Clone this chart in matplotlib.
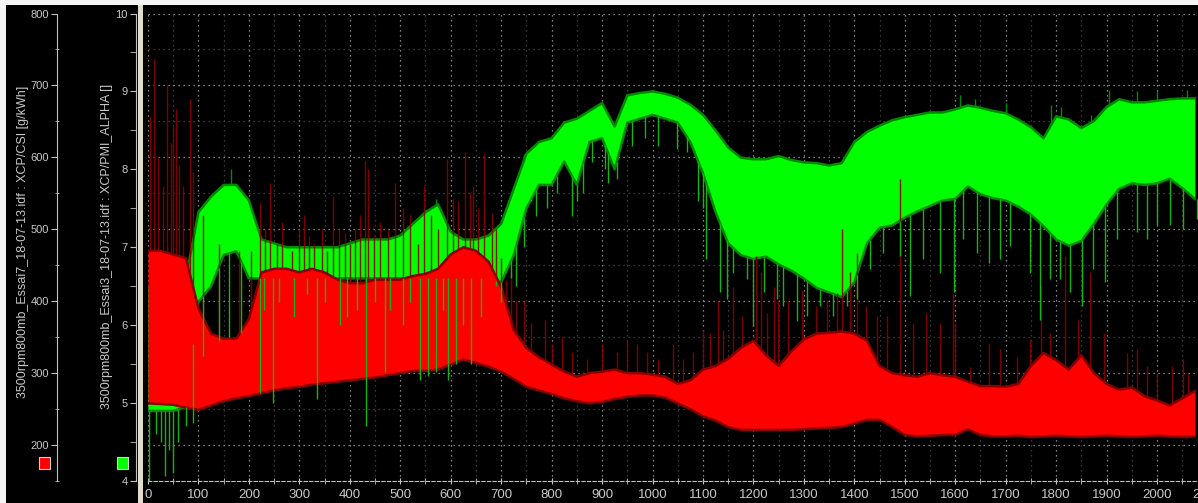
import numpy as np
import matplotlib
matplotlib.use("Agg")
import matplotlib.pyplot as plt
from matplotlib.patches import Rectangle
from matplotlib.ticker import MultipleLocator

# ---------------- data ----------------
time_s = np.arange(0, 2100, 25)  # sample base, 84 points

csi_low = [258, 257, 256, 252, 249, 255, 261, 265, 268, 272, 276, 279, 281, 284, 286, 288,
           290, 292, 294, 297, 300, 303, 303, 305, 312, 319, 314, 309, 302, 292, 281, 276,
           271, 265, 261, 258, 260, 264, 267, 269, 269, 266, 258, 250, 240, 234, 225, 221,
           221, 221, 221, 221, 222, 223, 224, 225, 230, 235, 235, 225, 214, 212, 213, 214,
           214, 222, 214, 212, 212, 213, 211, 212, 213, 212, 211, 212, 213, 212, 211, 212,
           213, 212, 211, 212]
csi_high = [470, 470, 465, 460, 390, 355, 348, 348, 375, 440, 445, 445, 440, 445, 440, 430,
            425, 425, 430, 430, 430, 435, 438, 445, 465, 475, 470, 455, 420, 360, 335, 322,
            312, 302, 295, 300, 302, 305, 300, 300, 298, 295, 285, 290, 305, 310, 320, 335,
            345, 325, 310, 330, 347, 355, 356, 358, 355, 345, 310, 300, 297, 295, 300, 297,
            295, 288, 282, 282, 281, 285, 310, 328, 318, 305, 325, 300, 285, 277, 280, 268,
            262, 255, 265, 275]

alpha_low = [4.90, 4.90, 4.90, 4.95, 6.30, 6.50, 6.90, 6.95, 6.60, 6.60, 6.60, 6.60, 6.60, 6.60,
             6.60, 6.60, 6.60, 6.60, 6.60, 6.60, 6.60, 6.60, 6.60, 6.60, 6.60, 6.60, 6.60, 6.60,
             6.55, 6.90, 7.50, 7.80, 7.80, 8.10, 7.80, 8.35, 8.40, 8.00, 8.60, 8.65, 8.70, 8.65,
             8.60, 8.35, 7.95, 7.45, 7.05, 6.90, 6.85, 6.88, 6.78, 6.70, 6.60, 6.48, 6.42, 6.36,
             6.55, 7.05, 7.25, 7.28, 7.38, 7.46, 7.53, 7.60, 7.62, 7.78, 7.68, 7.63, 7.60, 7.52,
             7.42, 7.27, 7.10, 7.02, 7.08, 7.30, 7.55, 7.75, 7.82, 7.80, 7.82, 7.88, 7.76, 7.62]
alpha_high = [6.50, 6.50, 6.50, 6.60, 7.45, 7.65, 7.80, 7.80, 7.60, 7.10, 7.05, 7.00, 7.00, 7.00,
              7.00, 7.00, 7.05, 7.10, 7.10, 7.10, 7.15, 7.30, 7.45, 7.55, 7.20, 7.10, 7.10, 7.15,
              7.30, 7.75, 8.20, 8.35, 8.40, 8.60, 8.65, 8.75, 8.85, 8.55, 8.95, 8.98, 9.00, 8.97,
              8.92, 8.83, 8.70, 8.50, 8.28, 8.15, 8.13, 8.13, 8.17, 8.12, 8.09, 8.08, 8.05, 8.08,
              8.35, 8.48, 8.56, 8.63, 8.67, 8.70, 8.73, 8.73, 8.77, 8.82, 8.79, 8.75, 8.72, 8.64,
              8.54, 8.40, 8.68, 8.64, 8.53, 8.62, 8.80, 8.90, 8.86, 8.86, 8.88, 8.90, 8.91, 8.91]

# upward CSI spikes (time, peak value)
csi_spike_t = [4, 12, 20, 30, 37, 45, 49, 55, 62, 70, 84, 90, 110, 140, 180, 205, 222, 232,
               242, 255, 265, 285, 300, 310, 320, 330, 345, 355, 367, 378, 390, 400, 410, 420,
               430, 437, 448, 460, 475, 490, 505, 520, 535, 548, 560, 575, 592, 605, 615, 628,
               638, 645, 655, 666, 681, 690, 700, 710, 720, 730, 745, 760, 787, 800, 820, 840,
               870, 900, 930, 950, 970, 990, 1010, 1040, 1060, 1080, 1100, 1114, 1130, 1140,
               1160, 1177, 1205, 1215, 1226, 1240, 1249, 1269, 1296, 1325, 1345, 1365, 1375,
               1391, 1405, 1424, 1444, 1464, 1490, 1517, 1543, 1570, 1596, 1600, 1629, 1666,
               1689, 1722, 1748, 1771, 1788, 1818, 1844, 1867, 1894, 1940, 1960, 1980, 2000,
               2030, 2052, 2062]
csi_spike_v = [656, 737, 600, 560, 700, 620, 644, 667, 590, 560, 681, 580, 520, 480, 470, 470,
               537, 500, 565, 480, 510, 470, 500, 520, 490, 480, 500, 470, 546, 500, 495, 480,
               500, 520, 595, 584, 490, 510, 500, 565, 530, 520, 480, 560, 520, 500, 598, 542,
               540, 607, 551, 560, 530, 605, 523, 500, 460, 430, 440, 400, 400, 370, 374, 340,
               350, 330, 320, 340, 330, 345, 340, 330, 320, 340, 320, 330, 360, 356, 400, 360,
               420, 379, 463, 440, 384, 420, 402, 402, 416, 393, 402, 412, 500, 440, 467, 393,
               379, 379, 570, 370, 384, 370, 412, 370, 309, 342, 333, 323, 347, 421, 356, 463,
               374, 440, 356, 328, 333, 310, 300, 310, 319, 300]

# downward PMI_ALPHA spikes (time, dip value)
alpha_dip_t = [2, 15, 25, 34, 42, 50, 60, 75, 90, 110, 140, 160, 185, 222, 230, 248, 260, 290,
               315, 334, 350, 380, 395, 415, 433, 450, 470, 480, 505, 520, 540, 555, 570, 585,
               595, 610, 625, 640, 660, 690, 700, 720, 730, 745, 760, 770, 790, 810, 840, 850,
               863, 880, 905, 912, 929, 960, 985, 1010, 1048, 1068, 1090, 1100, 1107, 1134,
               1147, 1160, 1187, 1200, 1220, 1246, 1259, 1286, 1306, 1332, 1358, 1385, 1405,
               1431, 1457, 1490, 1510, 1537, 1570, 1598, 1616, 1643, 1666, 1689, 1709, 1748,
               1768, 1788, 1808, 1828, 1851, 1874, 1897, 1920, 1960, 1980, 2000, 2026, 2052,
               2079]
alpha_dip_v = [4.00, 4.60, 4.50, 4.06, 4.40, 4.10, 4.50, 4.70, 4.75, 5.60, 5.80, 5.85, 5.90,
               5.13, 6.20, 5.00, 6.30, 6.10, 6.40, 5.05, 6.30, 6.00, 6.10, 6.20, 4.70, 6.30,
               5.40, 6.20, 6.00, 6.30, 5.30, 5.35, 5.40, 6.20, 5.30, 5.50, 6.00, 5.50, 6.10,
               6.50, 6.30, 6.60, 6.50, 7.00, 7.60, 7.40, 7.50, 7.70, 7.40, 7.60, 7.70, 8.10,
               8.00, 7.83, 7.88, 8.30, 8.40, 8.30, 8.26, 8.22, 7.60, 7.50, 6.85, 6.42, 6.33,
               6.67, 6.59, 5.99, 6.42, 6.33, 6.25, 6.05, 6.12, 6.25, 6.12, 6.25, 6.33, 6.72,
               6.93, 6.89, 6.38, 6.85, 6.67, 6.42, 7.10, 6.93, 6.80, 6.85, 7.02, 6.67, 6.07,
               6.59, 6.59, 6.42, 6.25, 6.72, 6.55, 7.10, 7.19, 7.10, 7.28, 7.28, 7.23, 7.36]

# upward PMI_ALPHA spikes (time, peak value)
alpha_peak_t = [165, 570, 745, 1610, 1640, 1700, 1790, 1810, 1870, 1905, 1960, 2000, 2060]
alpha_peak_v = [8.00, 7.62, 8.20, 8.95, 8.90, 8.85, 8.82, 8.80, 8.70, 9.02, 9.00, 9.00, 9.02]

csi_label = "3500rpm800mb_Essai7_18-07-13.idf : XCP/CSI [g/kWh]"
alpha_label = "3500rpm800mb_Essai3_18-07-13.idf : XCP/PMI_ALPHA []"

# ---------------- style ----------------
plt.rcParams['font.family'] = ['Liberation Sans Narrow', 'Liberation Sans', 'DejaVu Sans']
W, H = 1198, 503
fig = plt.figure(figsize=(W / 100, H / 100), dpi=100, facecolor='black')

txt = '#c8c8c8'
axc = '#c0c0c0'
RED, DRED = '#ff0000', '#8a0000'
GRN, DGRN, MGRN = '#00ff00', '#008a00', '#14b414'

left_px, right_px, top_px, bot_px = 148, 1210, 13.5, 481
rect = [left_px / W, (H - bot_px) / H, (right_px - left_px) / W, (bot_px - top_px) / H]
xmax = 2105

# background axes: grid only
ax_bg = fig.add_axes(rect, zorder=0)
ax_bg.set_facecolor('black')
ax_bg.set_xlim(0, xmax)
ax_bg.set_ylim(150, 800)
ax_bg.xaxis.set_major_locator(MultipleLocator(100))
ax_bg.xaxis.set_minor_locator(MultipleLocator(50))
ax_bg.yaxis.set_major_locator(MultipleLocator(100))
ax_bg.yaxis.set_minor_locator(MultipleLocator(50))
ax_bg.grid(which='major', color='#a8a8a8', linestyle=(0, (1, 3)), linewidth=0.9)
ax_bg.grid(which='minor', color='#4a4a4a', linestyle=(0, (1, 3)), linewidth=0.9)
ax_bg.tick_params(which='both', length=0, labelbottom=False, labelleft=False)
for s in ax_bg.spines.values():
    s.set_visible(False)

# green series axes (PMI_ALPHA)
ax_g = fig.add_axes(rect, zorder=1)
ax_g.patch.set_visible(False)
ax_g.set_xlim(0, xmax)
ax_g.set_ylim(4, 10)
ax_g.plot(time_s, alpha_high, color=DGRN, lw=1.8)
ax_g.plot(time_s, alpha_low, color=DGRN, lw=1.8)
ax_g.vlines(alpha_peak_t, np.interp(alpha_peak_t, time_s, alpha_high), alpha_peak_v,
            color=DGRN, lw=1.0)
ax_g.fill_between(time_s, alpha_low, alpha_high, color=GRN, lw=0)
for k in ['top', 'right', 'bottom']:
    ax_g.spines[k].set_visible(False)
ax_g.spines['left'].set_position(('axes', (136 - left_px) / (right_px - left_px)))
ax_g.spines['left'].set_color(axc)
ax_g.yaxis.set_major_locator(MultipleLocator(1))
ax_g.yaxis.set_minor_locator(MultipleLocator(0.5))
ax_g.tick_params(axis='y', which='major', colors=axc, labelcolor=txt, labelsize=8,
                 direction='out', length=4, pad=2)
ax_g.tick_params(axis='y', which='minor', colors=axc, direction='out', length=4)
ax_g.tick_params(axis='x', which='both', bottom=False, labelbottom=False)

# red series axes (CSI), owns x axis
ax_r = fig.add_axes(rect, zorder=2)
ax_r.patch.set_visible(False)
ax_r.set_xlim(0, xmax)
ax_r.set_ylim(150, 800)
ax_r.plot(time_s, csi_high, color=DRED, lw=1.8)
ax_r.plot(time_s, csi_low, color=DRED, lw=1.8)
ax_r.vlines(csi_spike_t, np.interp(csi_spike_t, time_s, csi_high), csi_spike_v,
            color=DRED, lw=1.0, alpha=0.9)
ax_r.fill_between(time_s, csi_low, csi_high, color=RED, lw=0)
ax_r.vlines(alpha_dip_t, np.interp(alpha_dip_t, time_s, alpha_low), alpha_dip_v,
            color=MGRN, lw=1.0, transform=ax_g.transData)

for k in ['top', 'right']:
    ax_r.spines[k].set_visible(False)
ax_r.spines['left'].set_position(('axes', (57 - left_px) / (right_px - left_px)))
ax_r.spines['left'].set_color(axc)
ax_r.spines['bottom'].set_color(axc)
ax_r.spines['bottom'].set_linestyle((0, (3, 2)))
ax_r.yaxis.set_major_locator(MultipleLocator(100))
ax_r.yaxis.set_minor_locator(MultipleLocator(50))
ax_r.xaxis.set_major_locator(MultipleLocator(100))
ax_r.xaxis.set_minor_locator(MultipleLocator(50))
ax_r.tick_params(axis='y', which='major', colors=axc, labelcolor=txt, labelsize=8,
                 direction='out', length=4, pad=2)
ax_r.tick_params(axis='y', which='minor', colors=axc, direction='inout', length=3)
ax_r.tick_params(axis='x', which='major', colors=axc, labelcolor=txt, labelsize=9.5,
                 direction='inout', length=5, pad=3)
ax_r.tick_params(axis='x', which='minor', colors=axc, direction='inout', length=4)

# axis titles
fig.text(23 / W, 1 - 242 / H, csi_label, rotation=90, ha='center', va='center',
         color=txt, fontsize=9)
fig.text(107 / W, 1 - 246 / H, alpha_label, rotation=90, ha='center', va='center',
         color=txt, fontsize=9)

# colour keys
fig.patches.append(Rectangle((39 / W, (H - 469) / H), 11 / W, 12 / H, transform=fig.transFigure,
                             facecolor=RED, edgecolor='#d0d0d0', lw=0.8))
fig.patches.append(Rectangle((117 / W, (H - 469) / H), 11 / W, 12 / H, transform=fig.transFigure,
                             facecolor=GRN, edgecolor='#d0d0d0', lw=0.8))

# window frame pieces
fig.patches.append(Rectangle((0, (H - 5) / H), 1, 5 / H, transform=fig.transFigure,
                             facecolor='#f4f4f4', edgecolor='none', zorder=5))
fig.patches.append(Rectangle((0, 0), 6 / W, 1, transform=fig.transFigure,
                             facecolor='#f4f4f4', edgecolor='none', zorder=5))
fig.patches.append(Rectangle((138 / W, 0), 5 / W, (H - 5) / H, transform=fig.transFigure,
                             facecolor='#e2dccb', edgecolor='none', zorder=5))

fig.savefig('out.png', dpi=100, facecolor='black')
